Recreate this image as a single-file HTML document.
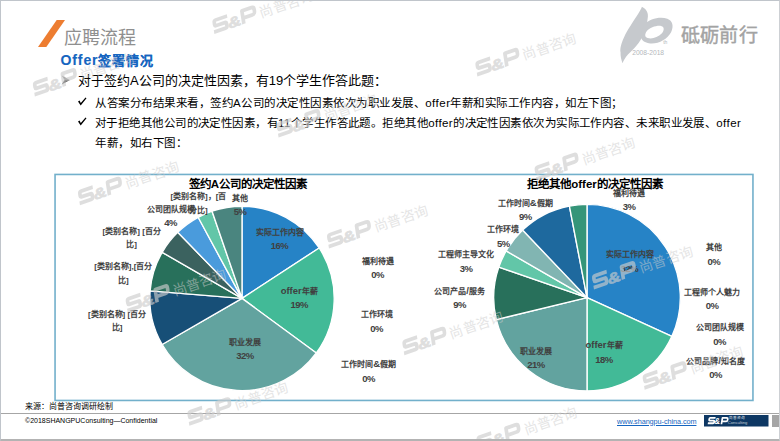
<!DOCTYPE html>
<html lang="zh-CN">
<head>
<meta charset="utf-8">
<title>应聘流程</title>
<style>
html,body{margin:0;padding:0;}
body{width:780px;height:441px;position:relative;overflow:hidden;background:#fff;font-family:"Liberation Sans",sans-serif;color:#000;}
.abs{position:absolute;white-space:nowrap;}
.frame{position:absolute;left:0;top:0;width:778px;height:438px;border-left:1px solid #c0c5cb;border-top:1px solid #c0c5cb;border-right:1px solid #cdd0d4;border-bottom:3px solid #b3b3b3;box-sizing:content-box;}
.title{left:64px;top:25.7px;font-size:18px;line-height:24px;color:#8f8f8f;font-weight:300;}
.sub{left:60.5px;top:50px;font-size:13px;line-height:20px;color:#1565c0;font-weight:bold;letter-spacing:0.9px;-webkit-text-stroke:0.12px #1565c0;}
.sub b{font-size:14px;letter-spacing:0.9px;}
.l1{left:78px;top:71px;font-size:13px;line-height:20px;letter-spacing:0px;}
.l2{left:95px;font-size:11.5px;line-height:20px;letter-spacing:0.5px;}
.ct{font-size:11.5px;font-weight:bold;line-height:16px;color:#000;text-align:center;width:200px;}
.lb{position:absolute;width:120px;text-align:center;font-size:8px;line-height:10px;font-weight:bold;color:#404040;white-space:nowrap;}
.lb i{display:block;font-style:normal;font-size:9.5px;line-height:10px;letter-spacing:-0.5px;}
.lb u{display:block;text-decoration:none;line-height:10px;}
.lb b{font-size:9.5px;}
.wp{fill:none;stroke:#cdcdcd;stroke-width:3.7px;stroke-linejoin:round;}
.wa{font-family:"Liberation Sans",sans-serif;font-weight:bold;font-style:italic;font-size:14.5px;fill:#cdcdcd;stroke:#cdcdcd;stroke-width:0.6px;}
.wc{font-family:"Liberation Sans",sans-serif;font-size:14px;fill:#cdcdcd;fill-opacity:0.8;}
.foot1{left:25px;top:401px;font-size:8px;line-height:12px;}
.foot2{left:25px;top:415px;font-size:7px;line-height:11px;}
.hr{position:absolute;left:1px;top:413px;width:778px;height:1px;background:#a6a6a6;}
.link{left:617px;top:415.5px;font-size:7.3px;letter-spacing:-0.08px;line-height:11px;color:#1565c0;text-decoration:underline;}
.grayb{position:absolute;left:772px;top:415.4px;width:8px;height:11.5px;background:#a6a6a6;}
</style>
</head>
<body>
<!-- header -->
<svg class="abs" style="left:0;top:0" width="780" height="70" viewBox="0 0 780 70">
<polygon points="56.7,20 65,20 46.3,47 38,47" fill="#ed7d31"/>
</svg>
<div class="abs title">应聘流程</div>
<div class="abs sub"><b>Offer</b>签署情况</div>

<!-- bullets -->
<svg class="abs" style="left:0;top:60px" width="120" height="80" viewBox="0 60 120 80">
<polygon points="61.7,75.6 69.8,80.1 64.6,80.1" fill="#808080"/>
<polygon points="61.7,84.6 69.8,80.1 64.6,80.1" fill="#2e2e2e"/>
<path d="M78.0 101.5 L79.6 100.5 L80.8 102.9 L85.5 97.6 L86.5 98.2 L80.7 105.5 Z" fill="#000"/>
<path d="M78.0 121.5 L79.6 120.5 L80.8 122.9 L85.5 117.6 L86.5 118.2 L80.7 125.5 Z" fill="#000"/>
</svg>
<div class="abs l1">对于签约A公司的决定性因素，有19个学生作答此题：</div>
<div class="abs l2" style="top:92.5px;">从答案分布结果来看，签约A公司的决定性因素依次为职业发展、offer年薪和实际工作内容，如左下图；</div>
<div class="abs l2" style="top:112.5px;letter-spacing:0.44px">对于拒绝其他公司的决定性因素，有11个学生作答此题。拒绝其他offer的决定性因素依次为实际工作内容、未来职业发展、offer</div>
<div class="abs l2" style="top:133px;">年薪，如右下图：</div>

<!-- chart -->
<svg class="abs" style="left:0;top:0" width="780" height="441" viewBox="0 0 780 441">
<rect x="55.05" y="174.45" width="697.9" height="226" fill="none" stroke="#72b0cb" stroke-width="1.6"/>
<g stroke="#fff" stroke-width="1.35" stroke-linejoin="round">
<path d="M242.00 298.40L242.00 206.20A92.2 92.2 0 0 1 319.18 247.97Z" fill="#2683c6"/>
<path d="M242.00 298.40L319.18 247.97A92.2 92.2 0 0 1 316.31 352.98Z" fill="#42ba97"/>
<path d="M242.00 298.40L316.31 352.98A92.2 92.2 0 0 1 162.15 344.50Z" fill="#62a39f"/>
<path d="M242.00 298.40L162.15 344.50A92.2 92.2 0 0 1 150.11 290.85Z" fill="#174f77"/>
<path d="M242.00 298.40L150.11 290.85A92.2 92.2 0 0 1 162.15 252.30Z" fill="#28705b"/>
<path d="M242.00 298.40L162.15 252.30A92.2 92.2 0 0 1 177.72 232.30Z" fill="#3b625f"/>
<path d="M242.00 298.40L177.72 232.30A92.2 92.2 0 0 1 198.15 217.30Z" fill="#4a9bdc"/>
<path d="M242.00 298.40L198.15 217.30A92.2 92.2 0 0 1 212.06 211.20Z" fill="#62c6a8"/>
<path d="M242.00 298.40L212.06 211.20A92.2 92.2 0 0 1 242.00 206.20Z" fill="#4a857f"/>
<path d="M587.00 297.60L587.00 204.30A93.3 93.3 0 0 1 671.87 336.36Z" fill="#2683c6"/>
<path d="M587.00 297.60L671.87 336.36A93.3 93.3 0 0 1 587.00 390.90Z" fill="#42ba97"/>
<path d="M587.00 297.60L587.00 390.90A93.3 93.3 0 0 1 496.33 319.60Z" fill="#62a39f"/>
<path d="M587.00 297.60L496.33 319.60A93.3 93.3 0 0 1 498.84 267.07Z" fill="#28705b"/>
<path d="M587.00 297.60L498.84 267.07A93.3 93.3 0 0 1 506.20 250.95Z" fill="#62c6a8"/>
<path d="M587.00 297.60L506.20 250.95A93.3 93.3 0 0 1 522.61 230.08Z" fill="#81b5b2"/>
<path d="M587.00 297.60L522.61 230.08A93.3 93.3 0 0 1 569.36 205.98Z" fill="#1e699e"/>
<path d="M587.00 297.60L569.36 205.98A93.3 93.3 0 0 1 587.00 204.30Z" fill="#359579"/>
</g>
</svg>
<div class="abs ct" style="left:148px;top:175.5px;">签约A公司的决定性因素</div>
<div class="abs ct" style="left:495px;top:175.5px;">拒绝其他offer的决定性因素</div>
<div class="lb" style="left:138.4px;top:192.3px">[类别名称]，[百<u style="margin-top:3.80px">分比]</u></div>
<div class="lb" style="left:180.0px;top:193.7px">其他<i style="margin-top:3.35px">5%</i></div>
<div class="lb" style="left:110.5px;top:205.2px">公司团队规模<i style="margin-top:2.35px">4%</i></div>
<div class="lb" style="left:71.7px;top:226.7px">[类别名称] [百分<u style="margin-top:3.80px">比]</u></div>
<div class="lb" style="left:63.3px;top:262.3px">[类别名称],[百分<u style="margin-top:3.80px">比]</u></div>
<div class="lb" style="left:57.0px;top:309.6px">[类别名称] [百分<u style="margin-top:3.80px">比]</u></div>
<div class="lb" style="left:219.5px;top:227.7px">实际工作内容<i style="margin-top:3.35px">16%</i></div>
<div class="lb" style="left:239.2px;top:285.6px"><b>offer</b>年薪<i style="margin-top:3.35px">19%</i></div>
<div class="lb" style="left:185.0px;top:337.9px">职业发展<i style="margin-top:3.35px">32%</i></div>
<div class="lb" style="left:317.5px;top:256.9px">福利待遇<i style="margin-top:3.35px">0%</i></div>
<div class="lb" style="left:316.7px;top:310.3px">工作环境<i style="margin-top:3.35px">0%</i></div>
<div class="lb" style="left:308.6px;top:359.3px">工作时间<b>&amp;</b>假期<i style="margin-top:3.35px">0%</i></div>
<div class="lb" style="left:569.2px;top:189.0px">福利待遇<i style="margin-top:3.35px">3%</i></div>
<div class="lb" style="left:465.3px;top:197.7px">工作时间<b>&amp;</b>假期<i style="margin-top:3.35px">9%</i></div>
<div class="lb" style="left:443.3px;top:225.2px">工作环境<i style="margin-top:3.35px">5%</i></div>
<div class="lb" style="left:406.2px;top:250.3px">工程师主导文化<i style="margin-top:3.35px">3%</i></div>
<div class="lb" style="left:399.6px;top:286.1px">公司产品<b>/</b>服务<i style="margin-top:3.35px">9%</i></div>
<div class="lb" style="left:569.5px;top:250.3px">实际工作内容<i style="margin-top:3.35px">32%</i></div>
<div class="lb" style="left:476.0px;top:346.8px">职业发展<i style="margin-top:3.35px">21%</i></div>
<div class="lb" style="left:544.0px;top:340.2px"><b>offer</b>年薪<i style="margin-top:3.35px">18%</i></div>
<div class="lb" style="left:653.8px;top:243.2px">其他<i style="margin-top:3.35px">0%</i></div>
<div class="lb" style="left:652.2px;top:287.8px">工程师个人魅力<i style="margin-top:3.35px">0%</i></div>
<div class="lb" style="left:659.5px;top:323.3px">公司团队规模<i style="margin-top:3.35px">0%</i></div>
<div class="lb" style="left:655.5px;top:355.8px">公司品牌<b>/</b>知名度<i style="margin-top:3.35px">0%</i></div>

<!-- logo -->
<svg class="abs" style="left:615px;top:0" width="70" height="66" viewBox="0 0 468 441">
<path d="M180 45 C200 55 222 75 220 110 C217 150 205 195 188 235 C172 275 125 330 88 362 C70 382 56 405 50 422 C42 400 36 380 37 350 C32 325 42 288 60 250 C85 195 125 140 150 100 C165 75 175 60 180 45 Z" fill="#c6c9cd"/>
<path fill-rule="evenodd" d="M195 165 C230 125 300 110 350 125 C385 138 395 175 375 215 C350 262 290 295 235 290 C190 285 165 260 175 225 C180 200 190 180 195 165 Z M212 208 C232 183 280 168 308 173 C332 179 330 202 312 224 C288 250 245 264 218 254 C198 245 198 228 212 208 Z" fill="#c6c9cd"/>
<text x="115" y="366" font-family="Liberation Sans, sans-serif" font-size="46" fill="#b4b7bb" textLength="213" lengthAdjust="spacingAndGlyphs">2008-2018</text>
<text x="322" y="295" font-family="Liberation Sans, sans-serif" font-size="30" fill="#b4b7bb" textLength="28" lengthAdjust="spacingAndGlyphs">th</text>
</svg>
<div class="abs" style="left:680.5px;top:23px;font-size:19px;line-height:26px;color:#a3a3a3;-webkit-text-stroke:0.45px #a3a3a3;letter-spacing:0.4px;">砥砺前行</div>

<!-- footer -->
<div class="abs foot1">来源：尚普咨询调研绘制</div>
<div class="hr"></div>
<div class="abs foot2">©2018SHANGPUConsulting—Confidential</div>
<div class="abs link">www.shangpu-china.com</div>
<svg class="abs" style="left:704px;top:415.4px" width="64.5" height="11.5" viewBox="0 0 64.5 11.2" preserveAspectRatio="none">
<rect width="64.5" height="11.2" fill="#0d3763"/>
<g transform="translate(3.6,8.9) scale(0.44,0.47)">
<g transform="skewX(-10)" fill="none" stroke="#fff" stroke-width="3.9" stroke-linejoin="round">
<path d="M15.8 -12.9H3.6Q1.9 -12.9 1.9 -11.2V-9.1Q1.9 -7.4 3.6 -7.4H12.4Q14.1 -7.4 14.1 -5.7V-3.6Q14.1 -1.9 12.4 -1.9H0.2"/>
<path d="M31.4 0V-12.9H41.4Q44 -12.9 44 -10.3V-8.4Q44 -5.8 41.4 -5.8H31.4"/>
</g>
<text x="15.2" y="0" font-family="Liberation Sans, sans-serif" font-weight="bold" font-style="italic" font-size="17" fill="#fff" textLength="13" lengthAdjust="spacingAndGlyphs">&amp;</text>
</g>
<text x="25.5" y="4" font-family="Liberation Sans, sans-serif" font-size="3.6" fill="#e8edf3" textLength="16" lengthAdjust="spacingAndGlyphs">尚普咨询</text>
<text x="23.8" y="8.7" font-family="Liberation Sans, sans-serif" font-size="4.2" fill="#c5d0dc" textLength="19.5" lengthAdjust="spacingAndGlyphs">Consulting</text>
</svg>
<div class="grayb"></div>

<!-- watermarks -->
<svg class="abs" style="left:0;top:0;opacity:0.65" width="780" height="441" viewBox="0 0 780 441">
<g transform="translate(214.2,34.1) rotate(-19)"><g transform="skewX(-10)" class="wp"><path d="M15.8 -12.9H3.6Q1.9 -12.9 1.9 -11.2V-9.1Q1.9 -7.4 3.6 -7.4H12.4Q14.1 -7.4 14.1 -5.7V-3.6Q14.1 -1.9 12.4 -1.9H0.2"/><path d="M31.4 0V-12.9H41.4Q44 -12.9 44 -10.3V-8.4Q44 -5.8 41.4 -5.8H31.4"/></g><text x="16.2" y="0" class="wa" textLength="13.5" lengthAdjust="spacingAndGlyphs">&amp;</text><text x="50" y="0" class="wc">尚普咨询</text></g>
<g transform="translate(34.7,96.7) rotate(-19)"><g transform="skewX(-10)" class="wp"><path d="M15.8 -12.9H3.6Q1.9 -12.9 1.9 -11.2V-9.1Q1.9 -7.4 3.6 -7.4H12.4Q14.1 -7.4 14.1 -5.7V-3.6Q14.1 -1.9 12.4 -1.9H0.2"/><path d="M31.4 0V-12.9H41.4Q44 -12.9 44 -10.3V-8.4Q44 -5.8 41.4 -5.8H31.4"/></g><text x="16.2" y="0" class="wa" textLength="13.5" lengthAdjust="spacingAndGlyphs">&amp;</text><text x="50" y="0" class="wc">尚普咨询</text></g>
<g transform="translate(278.4,137.6) rotate(-19)"><g transform="skewX(-10)" class="wp"><path d="M15.8 -12.9H3.6Q1.9 -12.9 1.9 -11.2V-9.1Q1.9 -7.4 3.6 -7.4H12.4Q14.1 -7.4 14.1 -5.7V-3.6Q14.1 -1.9 12.4 -1.9H0.2"/><path d="M31.4 0V-12.9H41.4Q44 -12.9 44 -10.3V-8.4Q44 -5.8 41.4 -5.8H31.4"/></g><text x="16.2" y="0" class="wa" textLength="13.5" lengthAdjust="spacingAndGlyphs">&amp;</text><text x="50" y="0" class="wc">尚普咨询</text></g>
<g transform="translate(79.8,205.3) rotate(-19)"><g transform="skewX(-10)" class="wp"><path d="M15.8 -12.9H3.6Q1.9 -12.9 1.9 -11.2V-9.1Q1.9 -7.4 3.6 -7.4H12.4Q14.1 -7.4 14.1 -5.7V-3.6Q14.1 -1.9 12.4 -1.9H0.2"/><path d="M31.4 0V-12.9H41.4Q44 -12.9 44 -10.3V-8.4Q44 -5.8 41.4 -5.8H31.4"/></g><text x="16.2" y="0" class="wa" textLength="13.5" lengthAdjust="spacingAndGlyphs">&amp;</text><text x="50" y="0" class="wc">尚普咨询</text></g>
<g transform="translate(328.8,248.6) rotate(-19)"><g transform="skewX(-10)" class="wp"><path d="M15.8 -12.9H3.6Q1.9 -12.9 1.9 -11.2V-9.1Q1.9 -7.4 3.6 -7.4H12.4Q14.1 -7.4 14.1 -5.7V-3.6Q14.1 -1.9 12.4 -1.9H0.2"/><path d="M31.4 0V-12.9H41.4Q44 -12.9 44 -10.3V-8.4Q44 -5.8 41.4 -5.8H31.4"/></g><text x="16.2" y="0" class="wa" textLength="13.5" lengthAdjust="spacingAndGlyphs">&amp;</text><text x="50" y="0" class="wc">尚普咨询</text></g>
<g transform="translate(477.2,76.5) rotate(-19)"><g transform="skewX(-10)" class="wp"><path d="M15.8 -12.9H3.6Q1.9 -12.9 1.9 -11.2V-9.1Q1.9 -7.4 3.6 -7.4H12.4Q14.1 -7.4 14.1 -5.7V-3.6Q14.1 -1.9 12.4 -1.9H0.2"/><path d="M31.4 0V-12.9H41.4Q44 -12.9 44 -10.3V-8.4Q44 -5.8 41.4 -5.8H31.4"/></g><text x="16.2" y="0" class="wa" textLength="13.5" lengthAdjust="spacingAndGlyphs">&amp;</text><text x="50" y="0" class="wc">尚普咨询</text></g>
<g transform="translate(536.4,181.2) rotate(-19)"><g transform="skewX(-10)" class="wp"><path d="M15.8 -12.9H3.6Q1.9 -12.9 1.9 -11.2V-9.1Q1.9 -7.4 3.6 -7.4H12.4Q14.1 -7.4 14.1 -5.7V-3.6Q14.1 -1.9 12.4 -1.9H0.2"/><path d="M31.4 0V-12.9H41.4Q44 -12.9 44 -10.3V-8.4Q44 -5.8 41.4 -5.8H31.4"/></g><text x="16.2" y="0" class="wa" textLength="13.5" lengthAdjust="spacingAndGlyphs">&amp;</text><text x="50" y="0" class="wc">尚普咨询</text></g>
<g transform="translate(127.5,312.7) rotate(-19)"><g transform="skewX(-10)" class="wp"><path d="M15.8 -12.9H3.6Q1.9 -12.9 1.9 -11.2V-9.1Q1.9 -7.4 3.6 -7.4H12.4Q14.1 -7.4 14.1 -5.7V-3.6Q14.1 -1.9 12.4 -1.9H0.2"/><path d="M31.4 0V-12.9H41.4Q44 -12.9 44 -10.3V-8.4Q44 -5.8 41.4 -5.8H31.4"/></g><text x="16.2" y="0" class="wa" textLength="13.5" lengthAdjust="spacingAndGlyphs">&amp;</text><text x="50" y="0" class="wc">尚普咨询</text></g>
<g transform="translate(189.2,425.8) rotate(-19)"><g transform="skewX(-10)" class="wp"><path d="M15.8 -12.9H3.6Q1.9 -12.9 1.9 -11.2V-9.1Q1.9 -7.4 3.6 -7.4H12.4Q14.1 -7.4 14.1 -5.7V-3.6Q14.1 -1.9 12.4 -1.9H0.2"/><path d="M31.4 0V-12.9H41.4Q44 -12.9 44 -10.3V-8.4Q44 -5.8 41.4 -5.8H31.4"/></g><text x="16.2" y="0" class="wa" textLength="13.5" lengthAdjust="spacingAndGlyphs">&amp;</text><text x="50" y="0" class="wc">尚普咨询</text></g>
<g transform="translate(593.8,289.7) rotate(-19)"><g transform="skewX(-10)" class="wp"><path d="M15.8 -12.9H3.6Q1.9 -12.9 1.9 -11.2V-9.1Q1.9 -7.4 3.6 -7.4H12.4Q14.1 -7.4 14.1 -5.7V-3.6Q14.1 -1.9 12.4 -1.9H0.2"/><path d="M31.4 0V-12.9H41.4Q44 -12.9 44 -10.3V-8.4Q44 -5.8 41.4 -5.8H31.4"/></g><text x="16.2" y="0" class="wa" textLength="13.5" lengthAdjust="spacingAndGlyphs">&amp;</text><text x="50" y="0" class="wc">尚普咨询</text></g>
<g transform="translate(404.2,355.3) rotate(-19)"><g transform="skewX(-10)" class="wp"><path d="M15.8 -12.9H3.6Q1.9 -12.9 1.9 -11.2V-9.1Q1.9 -7.4 3.6 -7.4H12.4Q14.1 -7.4 14.1 -5.7V-3.6Q14.1 -1.9 12.4 -1.9H0.2"/><path d="M31.4 0V-12.9H41.4Q44 -12.9 44 -10.3V-8.4Q44 -5.8 41.4 -5.8H31.4"/></g><text x="16.2" y="0" class="wa" textLength="13.5" lengthAdjust="spacingAndGlyphs">&amp;</text><text x="50" y="0" class="wc">尚普咨询</text></g>
<g transform="translate(644.5,389.8) rotate(-19)"><g transform="skewX(-10)" class="wp"><path d="M15.8 -12.9H3.6Q1.9 -12.9 1.9 -11.2V-9.1Q1.9 -7.4 3.6 -7.4H12.4Q14.1 -7.4 14.1 -5.7V-3.6Q14.1 -1.9 12.4 -1.9H0.2"/><path d="M31.4 0V-12.9H41.4Q44 -12.9 44 -10.3V-8.4Q44 -5.8 41.4 -5.8H31.4"/></g><text x="16.2" y="0" class="wa" textLength="13.5" lengthAdjust="spacingAndGlyphs">&amp;</text><text x="50" y="0" class="wc">尚普咨询</text></g>
<g transform="translate(478.3,451.3) rotate(-19)"><g transform="skewX(-10)" class="wp"><path d="M15.8 -12.9H3.6Q1.9 -12.9 1.9 -11.2V-9.1Q1.9 -7.4 3.6 -7.4H12.4Q14.1 -7.4 14.1 -5.7V-3.6Q14.1 -1.9 12.4 -1.9H0.2"/><path d="M31.4 0V-12.9H41.4Q44 -12.9 44 -10.3V-8.4Q44 -5.8 41.4 -5.8H31.4"/></g><text x="16.2" y="0" class="wa" textLength="13.5" lengthAdjust="spacingAndGlyphs">&amp;</text><text x="50" y="0" class="wc">尚普咨询</text></g>
</svg>
<div class="frame"></div>
</body>
</html>
